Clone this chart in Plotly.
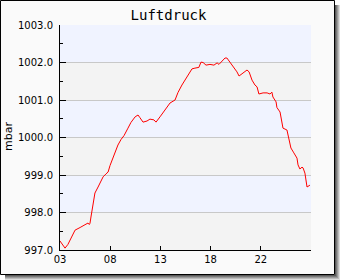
import plotly.graph_objects as go

# ---- data (time in hours from start, pressure in mbar) ----
hours = [0, 1.0, 2.4, 3.8, 4.8, 6.2, 7.2, 9.6, 12.0, 13.4, 13.9, 14.3, 14.8, 15.8, 16.7,
         18.2, 19.1, 20.6, 22.0, 23.0, 23.9, 24.9, 26.3, 27.7, 29.2, 30.6, 32.5, 33.9,
         35.9, 37.3, 38.2, 39.7, 41.6, 43.0, 44.9, 45.9, 47.8, 49.2, 51.1, 52.6, 55.0,
         56.4, 58.3, 59.8, 61.2, 63.1, 64.5, 66.4, 67.4, 68.4, 69.8, 71.7, 73.6, 75.1,
         76.0, 77.5, 78.9, 79.8, 81.3, 82.7, 84.6, 85.6, 87.5, 89.4, 90.4, 91.8, 93.2,
         94.2, 95.1, 97.1, 99.0, 100.4, 101.3, 101.8, 103.3, 103.7, 105.2, 106.1, 106.6,
         108.5, 109.0, 109.9, 110.4, 111.8, 113.3, 113.8, 114.7, 115.7, 116.2, 117.1,
         117.6, 118.1, 119.5]
pressure = [997.24, 997.15, 997.05, 997.15, 997.27, 997.42, 997.53, 997.60, 997.67, 997.72,
            997.68, 997.70, 997.88, 998.20, 998.52, 998.68, 998.78, 998.95, 999.03, 999.08,
            999.25, 999.40, 999.60, 999.80, 999.95, 1000.05, 1000.25, 1000.40, 1000.55,
            1000.60, 1000.53, 1000.41, 1000.44, 1000.49, 1000.47, 1000.41, 1000.55, 1000.65,
            1000.80, 1000.92, 1001.00, 1001.20, 1001.40, 1001.53, 1001.67, 1001.83, 1001.85,
            1001.87, 1002.01, 1002.00, 1001.93, 1001.95, 1001.93, 1001.99, 1001.95, 1002.04,
            1002.12, 1002.12, 1002.01, 1001.88, 1001.75, 1001.64, 1001.72, 1001.80, 1001.75,
            1001.53, 1001.40, 1001.35, 1001.16, 1001.19, 1001.19, 1001.16, 1001.21, 1001.08,
            1000.95, 1000.80, 1000.68, 1000.39, 1000.25, 1000.20, 1000.07, 999.93, 999.72,
            999.59, 999.45, 999.27, 999.16, 999.21, 999.19, 999.05, 998.79, 998.68, 998.73]
tick_hours = [0, 24, 48, 72, 96]
tick_labels = ["03", "08", "13", "18", "22"]
y_ticks = [997, 998, 999, 1000, 1001, 1002, 1003]
band_blue = [(1002, 1003), (1000, 1001), (998, 999)]
band_gray = [(1001, 1002), (999, 1000), (997, 998)]

W, H = 340, 280
L, R, T, B = 60, 29, 25, 30
PW, PH = W - L - R, H - T - B


def px(x):
    return (x - L) / PW


def py(y):
    return (H - B - y) / PH


shapes = []
# shadow stripes
shadow_cols = ["#5a5a5a", "#7a7a7a", "#9a9a9a", "#bbbbbb", "#dddddd"]
for i, c in enumerate(shadow_cols):
    shapes.append(dict(type="rect", xref="paper", yref="paper", layer="below",
                       x0=px(335 + i), x1=px(336 + i), y0=py(5), y1=py(275 + i + 1),
                       fillcolor=c, line=dict(width=0)))
    shapes.append(dict(type="rect", xref="paper", yref="paper", layer="below",
                       x0=px(5), x1=px(336 + i), y0=py(275 + i), y1=py(276 + i),
                       fillcolor=c, line=dict(width=0)))
# frame
shapes.append(dict(type="rect", xref="paper", yref="paper", layer="below",
                   x0=px(0.5), x1=px(334.5), y0=py(274.5), y1=py(0.5),
                   fillcolor="#fafafa", line=dict(color="black", width=1)))
# bands
for lo, hi in band_blue:
    shapes.append(dict(type="rect", xref="x", yref="y", layer="below",
                       x0=0, x1=120, y0=lo, y1=hi, fillcolor="#f0f3ff", line=dict(width=0)))
for lo, hi in band_gray:
    shapes.append(dict(type="rect", xref="x", yref="y", layer="below",
                       x0=0, x1=120, y0=lo, y1=hi, fillcolor="#f3f3f3", line=dict(width=0)))

fig = go.Figure(go.Scatter(x=hours, y=pressure, mode="lines",
                           line=dict(color="#ff0000", width=1), hoverinfo="skip"))

fig.update_layout(
    width=W, height=H, margin=dict(l=L, r=R, t=T, b=B),
    paper_bgcolor="white", plot_bgcolor="rgba(0,0,0,0)",
    showlegend=False, shapes=shapes,
    font=dict(family="DejaVu Sans", size=10, color="black"),
    title=dict(text="Luftdruck", x=168.5 / W, xref="container", xanchor="center",
               y=1 - 15 / H, yref="container", yanchor="middle",
               font=dict(family="DejaVu Sans Mono", size=14, color="black")),
    annotations=[dict(text="mbar", xref="paper", yref="paper", x=px(8), y=py(137),
                      textangle=-90, showarrow=False, xanchor="center", yanchor="middle",
                      font=dict(family="DejaVu Sans", size=11, color="black"))],
)
fig.update_xaxes(range=[0, 120], tickvals=tick_hours, ticktext=tick_labels,
                 ticks="inside", ticklen=4, tickcolor="black", showgrid=False,
                 showline=True, linecolor="black", linewidth=1, zeroline=False,
                 tickfont=dict(size=10))
fig.update_yaxes(range=[997, 1003], tickvals=y_ticks, tickformat=".1f",
                 ticks="inside", ticklen=6, tickcolor="black",
                 showgrid=True, gridcolor="#c8c8c8", gridwidth=1,
                 showline=True, linecolor="black", linewidth=1, zeroline=False,
                 ticklabelstandoff=4,
                 minor=dict(dtick=0.5, tick0=997, ticks="inside", ticklen=3,
                            tickcolor="black", showgrid=False),
                 tickfont=dict(size=10))

fig.write_html("out.html")
